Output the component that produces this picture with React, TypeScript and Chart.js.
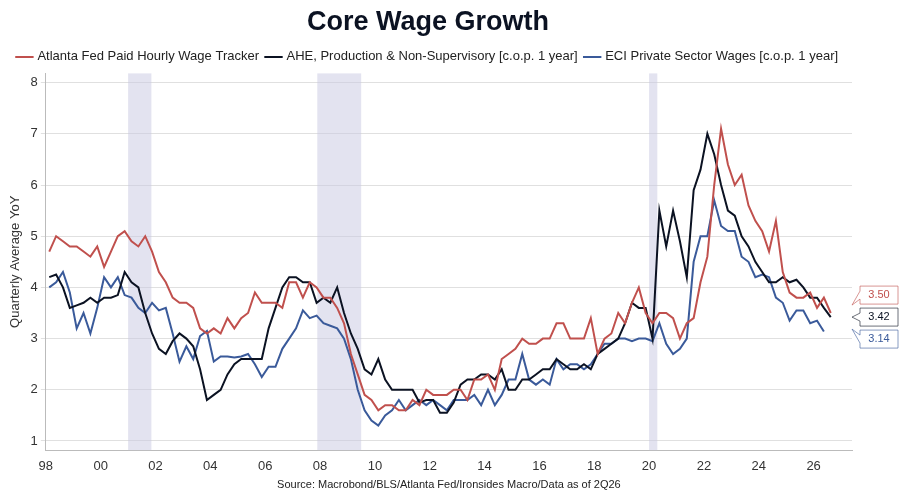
import React, { useEffect, useRef } from "react";
import { Chart, registerables } from "chart.js";
Chart.register(...registerables);

const startYear = 1998;
const atlanta = [4.7,5.0,4.9,4.8, 4.8,4.7,4.6,4.8, 4.4,4.7,5.0,5.1, 4.9,4.8,5.0,4.7, 4.3,4.1,3.8,3.7, 3.7,3.6,3.2,3.1, 3.2,3.1,3.4,3.2, 3.4,3.5,3.9,3.7, 3.7,3.7,3.6,4.1, 4.1,3.8,4.1,4.0, 3.8,3.8,3.6,3.3, 2.7,2.3,1.9,1.8, 1.6,1.7,1.7,1.6, 1.6,1.8,1.7,2.0, 1.9,1.9,1.9,2.0, 2.0,1.8,2.2,2.2, 2.3,2.0,2.6,2.7, 2.8,3.0,2.9,2.9, 3.0,3.0,3.3,3.3, 3.0,3.0,3.0,3.4, 2.7,3.0,3.1,3.5, 3.3,3.7,4.0,3.5, 3.3,3.5,3.5,3.4, 3.0,3.3,3.4,4.1, 4.6,6.0,7.1,6.4, 6.0,6.2,5.6,5.3, 5.1,4.7,5.3,4.3, 3.9,3.8,3.8,3.9, 3.6,3.8,3.5];
const ahe = [4.2,4.25,4.0,3.6, 3.65,3.7,3.8,3.7, 3.8,3.8,3.85,4.3, 4.1,4.0,3.5,3.1, 2.8,2.7,2.95,3.1, 3.0,2.85,2.4,1.8, 1.9,2.0,2.3,2.5, 2.6,2.6,2.6,2.6, 3.2,3.6,4.0,4.2, 4.2,4.1,4.1,3.7, 3.8,3.7,4.0,3.5, 3.1,2.8,2.4,2.3, 2.6,2.2,2.0,2.0, 2.0,2.0,1.75,1.8, 1.8,1.55,1.55,1.75, 2.1,2.2,2.2,2.3, 2.3,2.2,2.4,2.0, 2.0,2.2,2.2,2.3, 2.4,2.4,2.6,2.5, 2.4,2.4,2.5,2.4, 2.7,2.8,2.9,3.0, 3.3,3.7,3.6,3.6, 3.0,5.5,4.8,5.5, 4.9,4.2,5.9,6.3, 7.0,6.6,6.0,5.5, 5.4,5.0,4.8,4.5, 4.3,4.1,4.1,4.2, 4.1,4.15,4.0,3.8, 3.8,3.6,3.42];
const eci = [4.0,4.1,4.3,3.9, 3.2,3.5,3.1,3.6, 4.2,4.0,4.2,3.85, 3.8,3.6,3.5,3.7, 3.55,3.6,3.1,2.55, 2.85,2.6,3.05,3.15, 2.55,2.65,2.65,2.63, 2.65,2.7,2.5,2.25, 2.45,2.45,2.8,3.0, 3.2,3.55,3.4,3.45, 3.3,3.25,3.2,3.0, 2.6,2.0,1.6,1.4, 1.3,1.5,1.6,1.8, 1.6,1.7,1.8,1.7, 1.8,1.7,1.6,1.8, 1.8,1.8,1.9,1.7, 2.0,1.7,1.9,2.2, 2.2,2.7,2.2,2.1, 2.2,2.1,2.6,2.4, 2.5,2.5,2.4,2.5, 2.7,2.9,2.9,3.0, 3.0,2.95,3.0,3.0, 2.95,3.3,2.9,2.7, 2.8,3.0,4.5,5.0, 5.0,5.7,5.2,5.1, 5.1,4.6,4.5,4.2, 4.25,4.2,3.8,3.7, 3.35,3.55,3.55,3.3, 3.35,3.14];
const recessions = [[2001.0, 2001.85], [2007.9, 2009.5], [2020.0, 2020.3]];
const seriesNames = ["Atlanta Fed Paid Hourly Wage Tracker", "AHE, Production & Non-Supervisory [c.o.p. 1 year]", "ECI Private Sector Wages [c.o.p. 1 year]"];
const colors = ["#c0504d", "#0b1222", "#3a5a9a"];

const toPts = (arr: number[]) => arr.map((v, i) => ({ x: startYear + 0.125 + i * 0.25, y: v }));

const recPlugin = {
  id: "rec",
  beforeDatasetsDraw(chart: any) {
    const { ctx, chartArea: a, scales } = chart;
    ctx.save();
    ctx.fillStyle = "rgba(200,200,225,0.5)";
    for (const [s, e] of recessions) {
      const x1 = scales.x.getPixelForValue(s), x2 = scales.x.getPixelForValue(e);
      ctx.fillRect(x1, a.top, x2 - x1, a.bottom - a.top);
    }
    ctx.restore();
  },
};

const endPlugin = {
  id: "endLabels",
  afterDraw(chart: any) {
    const { ctx, chartArea: a, scales } = chart;
    const data = [atlanta, ahe, eci];
    const offs = [-22, 0, 22];
    ctx.save();
    ctx.font = "11px 'Liberation Sans', Arial";
    ctx.textBaseline = "middle";
    data.forEach((arr, i) => {
      const v = arr[arr.length - 1];
      const y = scales.y.getPixelForValue(3.42) + offs[i];
      const x0 = a.right + 8, w = 38, h = 18;
      ctx.beginPath();
      ctx.moveTo(x0, y - h / 2);
      ctx.lineTo(x0 + w, y - h / 2);
      ctx.lineTo(x0 + w, y + h / 2);
      ctx.lineTo(x0, y + h / 2);
      ctx.lineTo(x0, y + 4);
      ctx.lineTo(x0 - 8, i === 0 ? y + 10 : i === 2 ? y - 10 : y);
      ctx.lineTo(x0, y - 4);
      ctx.closePath();
      ctx.fillStyle = "#fff";
      ctx.fill();
      ctx.strokeStyle = colors[i];
      ctx.globalAlpha = 0.6;
      ctx.lineWidth = 1;
      ctx.stroke();
      ctx.globalAlpha = 1;
      ctx.fillStyle = colors[i];
      ctx.textAlign = "center";
      ctx.fillText(v.toFixed(2), x0 + w / 2, y);
    });
    ctx.restore();
  },
};

export default function App() {
  const ref = useRef<HTMLCanvasElement>(null);
  useEffect(() => {
    const chart = new Chart(ref.current!, {
      type: "line",
      data: {
        datasets: [atlanta, ahe, eci].map((arr, i) => ({
          label: seriesNames[i],
          data: toPts(arr),
          borderColor: colors[i],
          backgroundColor: colors[i],
          borderWidth: 2,
          pointRadius: 0,
          tension: 0,
        })),
      },
      options: {
        animation: false,
        responsive: false,
        layout: { padding: { left: 4, right: 48, top: 0, bottom: 4 } },
        plugins: {
          title: { display: true, text: "Core Wage Growth", color: "#0b1222", font: { size: 27, weight: "bold", family: "'Liberation Sans', Arial" }, padding: { top: 6, bottom: 4 } },
          legend: {
            labels: { usePointStyle: true, pointStyle: "line", boxWidth: 14, color: "#222", font: { size: 13, family: "'Liberation Sans', Arial" }, padding: 8 },
          },
          tooltip: { enabled: false },
        },
        scales: {
          x: {
            type: "linear",
            min: 1998,
            max: 2027.4,
            grid: { display: false, drawTicks: true, tickLength: 5 },
            border: { color: "#bbb" },
            afterBuildTicks: (s: any) => { s.ticks = [1998,2000,2002,2004,2006,2008,2010,2012,2014,2016,2018,2020,2022,2024,2026].map((v) => ({ value: v })); },
            ticks: {
              color: "#333",
              font: { size: 13, family: "'Liberation Sans', Arial" },
              callback: (v: any) => String(Math.round(Number(v)) % 100).padStart(2, "0"),
            },
            title: { display: true, text: "Source: Macrobond/BLS/Atlanta Fed/Ironsides Macro/Data as of 2Q26", color: "#222", font: { size: 11, family: "'Liberation Sans', Arial" }, padding: { top: 2 } },
          },
          y: {
            min: 0.82,
            max: 8.18,
            grid: { color: "#e0e0e0", tickLength: 5 },
            border: { color: "#bbb" },
            afterBuildTicks: (s: any) => { s.ticks = [1,2,3,4,5,6,7,8].map((v) => ({ value: v })); },
            ticks: { color: "#333", font: { size: 13, family: "'Liberation Sans', Arial" } },
            title: { display: true, text: "Quarterly Average YoY", color: "#333", font: { size: 13, family: "'Liberation Sans', Arial" } },
          },
        },
      },
      plugins: [recPlugin, endPlugin],
    } as any);
    return () => chart.destroy();
  }, []);
  return (
    <div style={{ position: "fixed", left: 0, top: 0, width: 900, height: 500, background: "#fff" }}>
      <canvas ref={ref} width={900} height={500} />
    </div>
  );
}
